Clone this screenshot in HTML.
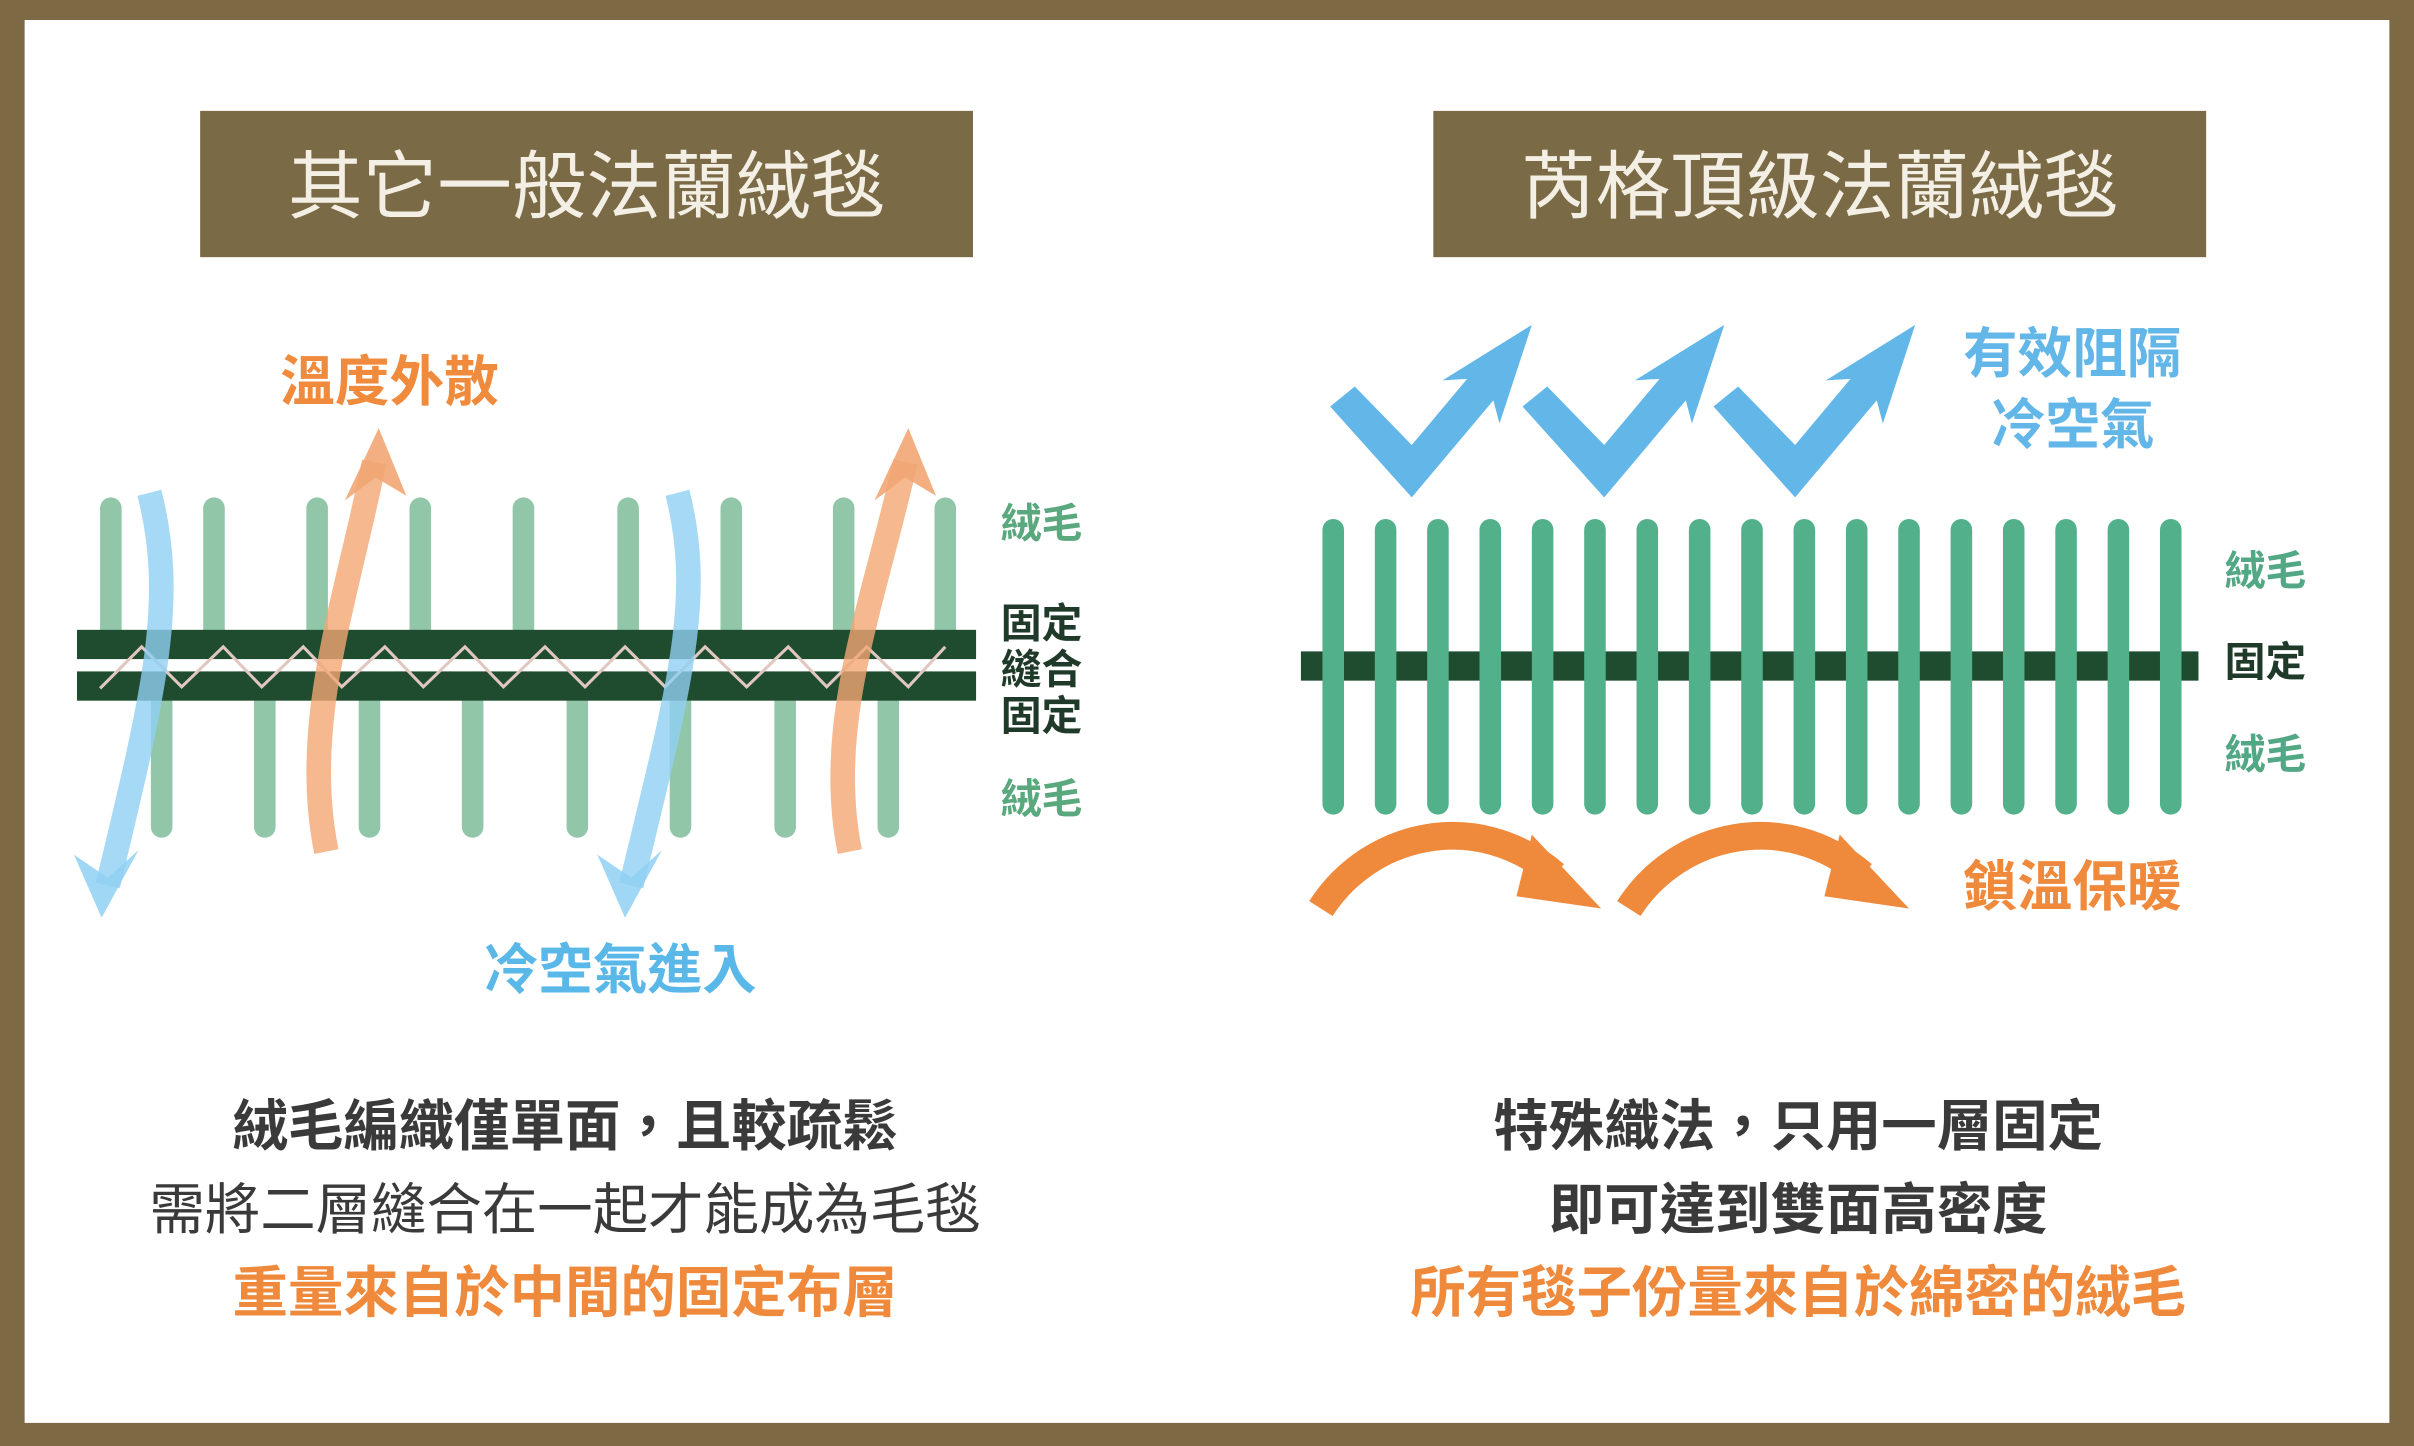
<!DOCTYPE html>
<html><head><meta charset="utf-8"><style>
html,body{margin:0;padding:0;background:#fff;}
svg{display:block;}
text{font-family:"Liberation Sans","Noto Sans CJK TC",sans-serif;}
</style></head><body>
<svg width="2414" height="1446" viewBox="0 0 1568 939" preserveAspectRatio="none" xmlns="http://www.w3.org/2000/svg">
<rect x="0" y="0" width="1568" height="939" fill="#7d6a45"/>
<rect x="16" y="13" width="1536" height="911" fill="#fff"/>
<rect x="130" y="72" width="502" height="95" fill="#7a6a45"/>
<rect x="931" y="72" width="502" height="95" fill="#7a6a45"/>
<text x="381" y="138" font-size="48.5" fill="#f4efe4" text-anchor="middle">其它一般法蘭絨毯</text>
<text x="1182" y="138" font-size="48.5" fill="#f4efe4" text-anchor="middle">芮格頂級法蘭絨毯</text>

<g stroke="#91c6a8" stroke-width="14" stroke-linecap="round">
<line x1="72" y1="330" x2="72" y2="412"/><line x1="139" y1="330" x2="139" y2="412"/><line x1="206" y1="330" x2="206" y2="412"/><line x1="273" y1="330" x2="273" y2="412"/><line x1="340" y1="330" x2="340" y2="412"/><line x1="408" y1="330" x2="408" y2="412"/><line x1="475" y1="330" x2="475" y2="412"/><line x1="548" y1="330" x2="548" y2="412"/><line x1="614" y1="330" x2="614" y2="412"/>
<line x1="105" y1="452" x2="105" y2="537"/><line x1="172" y1="452" x2="172" y2="537"/><line x1="240" y1="452" x2="240" y2="537"/><line x1="307" y1="452" x2="307" y2="537"/><line x1="375" y1="452" x2="375" y2="537"/><line x1="442" y1="452" x2="442" y2="537"/><line x1="510" y1="452" x2="510" y2="537"/><line x1="577" y1="452" x2="577" y2="537"/>
</g>
<rect x="50" y="409" width="584" height="19" fill="#1f4b2e"/>
<rect x="50" y="436" width="584" height="19" fill="#1f4b2e"/>
<polyline points="65,447 92,420 118,446 145,420 170,446 197,420 222,446 250,420 275,446 302,420 327,446 354,420 380,446 406,420 432,446 458,420 485,446 512,420 537,446 563,420 590,446 614,420" fill="none" stroke="#e0c7c0" stroke-width="2"/>
<g fill="none" stroke="#8fd0f2" stroke-opacity="0.8" stroke-width="16">
<path d="M97,320 C115,390 100,450 70,575"/>
<path d="M440,320 C458,390 440,450 410,575"/>
</g>
<g fill="#8fd0f2" fill-opacity="0.85">
<polygon points="48,555 66,596 90,552 70,570"/>
<polygon points="388,555 406,596 430,552 410,570"/>
</g>
<g fill="none" stroke="#f2a673" stroke-opacity="0.8" stroke-width="16">
<path d="M212,553 C195,470 225,390 243,300"/>
<path d="M552,553 C535,470 568,390 588,300"/>
</g>
<g fill="#f2a673" fill-opacity="0.9">
<polygon points="224,325 246,278 264,322 244,310"/>
<polygon points="568,325 590,278 608,322 588,310"/>
</g>
<text x="182" y="260" font-size="35.5" font-weight="bold" fill="#f08a3c">溫度外散</text>
<text x="314" y="642" font-size="35.5" font-weight="bold" fill="#5ab8e8">冷空氣進入</text>
<g font-size="26.5" font-weight="bold">
<text x="650" y="349" fill="#5aa87e">絨毛</text>
<text x="650" y="414" fill="#1f3a28">固定</text>
<text x="650" y="444" fill="#1f3a28">縫合</text>
<text x="650" y="474" fill="#1f3a28">固定</text>
<text x="650" y="528" fill="#5aa87e">絨毛</text>
</g>

<rect x="845" y="423" width="583" height="19" fill="#1f4b2e"/>
<g stroke="#52b08a" stroke-width="14" stroke-linecap="round">
<line x1="866" y1="344" x2="866" y2="522"/><line x1="900" y1="344" x2="900" y2="522"/><line x1="934" y1="344" x2="934" y2="522"/><line x1="968" y1="344" x2="968" y2="522"/><line x1="1002" y1="344" x2="1002" y2="522"/><line x1="1036" y1="344" x2="1036" y2="522"/><line x1="1070" y1="344" x2="1070" y2="522"/><line x1="1104" y1="344" x2="1104" y2="522"/><line x1="1138" y1="344" x2="1138" y2="522"/><line x1="1172" y1="344" x2="1172" y2="522"/><line x1="1206" y1="344" x2="1206" y2="522"/><line x1="1240" y1="344" x2="1240" y2="522"/><line x1="1274" y1="344" x2="1274" y2="522"/><line x1="1308" y1="344" x2="1308" y2="522"/><line x1="1342" y1="344" x2="1342" y2="522"/><line x1="1376" y1="344" x2="1376" y2="522"/><line x1="1410" y1="344" x2="1410" y2="522"/>
</g>
<g fill="#62b6e8">
<polygon points="864,264 880,251 917,289 953,246 937,247 995,211 974,275 970,260 917,323"/>
<polygon transform="translate(125,0)" points="864,264 880,251 917,289 953,246 937,247 995,211 974,275 970,260 917,323"/>
<polygon transform="translate(249,0)" points="864,264 880,251 917,289 953,246 937,247 995,211 974,275 970,260 917,323"/>
</g>
<g fill="none" stroke="#ef8a3c" stroke-width="18">
<path d="M858,590 C890,540 960,525 1010,568"/>
<path d="M1058,590 C1090,540 1160,525 1210,568"/>
</g>
<g fill="#ef8a3c">
<polygon points="995,542 1040,590 985,582"/>
<polygon points="1195,542 1240,590 1185,582"/>
</g>
<text x="1275" y="242" font-size="35.5" font-weight="bold" fill="#62b6e8">有效阻隔</text>
<text x="1293" y="288" font-size="35.5" font-weight="bold" fill="#62b6e8">冷空氣</text>
<text x="1275" y="588" font-size="35.5" font-weight="bold" fill="#ef8a3c">鎖溫保暖</text>
<g font-size="26.5" font-weight="bold">
<text x="1445" y="380" fill="#52a884">絨毛</text>
<text x="1445" y="439" fill="#1f3a28">固定</text>
<text x="1445" y="499" fill="#52a884">絨毛</text>
</g>

<g font-size="36" text-anchor="middle">
<text x="367" y="744" font-weight="bold" fill="#3a3a3a">絨毛編織僅單面，且較疏鬆</text>
<text x="367" y="798" fill="#3a3a3a">需將二層縫合在一起才能成為毛毯</text>
<text x="367" y="852" font-weight="bold" fill="#ef8a3c">重量來自於中間的固定布層</text>
<text x="1168" y="744" font-weight="bold" fill="#3a3a3a">特殊織法，只用一層固定</text>
<text x="1168" y="798" font-weight="bold" fill="#3a3a3a">即可達到雙面高密度</text>
<text x="1168" y="852" font-weight="bold" fill="#ef8a3c">所有毯子份量來自於綿密的絨毛</text>
</g>
</svg>
</body></html>
